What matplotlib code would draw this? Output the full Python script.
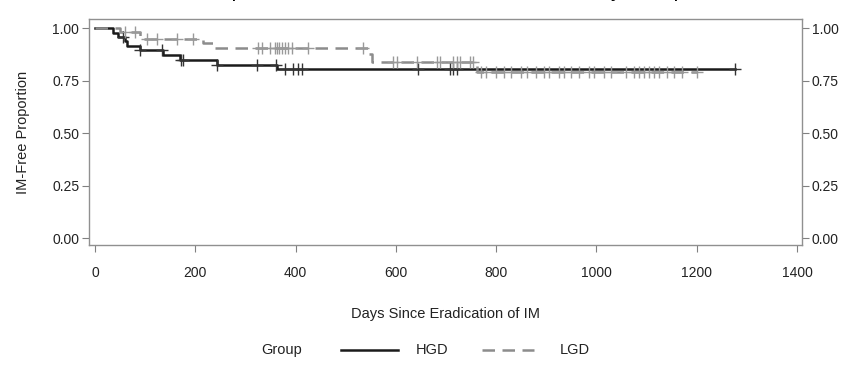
import numpy as np
import matplotlib
matplotlib.use("Agg")
from matplotlib import pyplot as plt
from matplotlib.lines import Line2D

plt.rcParams['font.family'] = ['Liberation Sans', 'DejaVu Sans']

# Kaplan-Meier steps (days, IM-free proportion)
hgd_times = [0, 36, 46, 60, 63, 90, 136, 170, 243, 363, 1276]
hgd_surv = [1.0, 0.978, 0.957, 0.936, 0.915, 0.893, 0.871, 0.850, 0.826, 0.803, 0.803]
hgd_censor = [56, 90, 133, 172, 176, 243, 323, 360, 379, 395, 405, 413,
              645, 708, 714, 722, 1276]

lgd_times = [0, 50, 90, 215, 240, 545, 552, 762, 1200]
lgd_surv = [1.0, 0.98, 0.95, 0.927, 0.905, 0.875, 0.84, 0.79, 0.79]
lgd_censor = [60, 80, 104, 124, 164, 196, 325, 333, 350, 358, 362, 366, 372,
              378, 385, 392, 425, 535, 594, 602, 642, 682, 688, 714, 722, 728,
              748, 754, 770, 780, 800, 815, 830, 850, 862, 880, 895, 905, 925,
              935, 950, 965, 985, 995, 1015, 1030, 1060, 1075, 1085, 1095, 1105,
              1115, 1125, 1140, 1155, 1170, 1200]

x_ticks = [0, 200, 400, 600, 800, 1000, 1200, 1400]
y_ticks = [0.00, 0.25, 0.50, 0.75, 1.00]


def level_at(times, surv, t):
    idx = np.searchsorted(times, t, side='right') - 1
    return np.asarray(surv)[idx]


def main():
    fig = plt.figure(figsize=(8.5, 3.73), dpi=100)
    ax = fig.add_axes([0.1047, 0.3432, 0.8388, 0.6059])

    ax.step(hgd_times, hgd_surv, where='post', color='#1a1a1a', lw=1.8)
    ax.step(lgd_times, lgd_surv, where='post', color='#8c8c8c', lw=1.8,
            dashes=(5, 3))
    ax.plot(hgd_censor, level_at(hgd_times, hgd_surv, hgd_censor), '+',
            color='#333333', ms=8, mew=1)
    ax.plot(lgd_censor, level_at(lgd_times, lgd_surv, lgd_censor), '+',
            color='#999999', ms=8, mew=1)

    ax.set_xlim(-12, 1410)
    ax.set_ylim(-0.033, 1.043)
    ax.set_xticks(x_ticks)
    ax.set_yticks(y_ticks)
    ax.yaxis.set_major_formatter(matplotlib.ticker.FormatStrFormatter('%.2f'))
    ax.tick_params(axis='y', which='both', left=True, right=True,
                   labelleft=True, labelright=True, direction='out',
                   length=5, color='#808080', labelsize=10, pad=2,
                   labelcolor='#222222')
    ax.tick_params(axis='x', direction='out', length=5, color='#808080',
                   labelsize=10, pad=10, labelcolor='#222222')
    for sp in ax.spines.values():
        sp.set_color('#909090')
        sp.set_linewidth(1.0)

    ax.set_ylabel('IM-Free Proportion', fontsize=10.5, color='#222222',
                  labelpad=16)
    fig.text(0.524, 0.159, 'Days Since Eradication of IM', ha='center',
             va='center', fontsize=10.5, color='#222222')

    # title sits mostly above the top edge, only its descenders show
    fig.text(0.524, 1.009, 'Kaplan-Meier Estimates of IM Recurrence by Group',
             ha='center', va='baseline', fontsize=15, color='black')

    # legend row
    ly = 1 - 350 / 373
    fig.text(282 / 850, ly, 'Group', ha='center', va='center', fontsize=10.5,
             color='#222222')
    fig.add_artist(Line2D([341 / 850, 398 / 850], [ly, ly], color='#1a1a1a',
                          lw=1.8))
    fig.text(416 / 850, ly, 'HGD', ha='left', va='center', fontsize=10.5,
             color='#222222')
    fig.add_artist(Line2D([482 / 850, 534 / 850], [ly, ly], color='#8c8c8c',
                          lw=1.8, dashes=(5, 3)))
    fig.text(560 / 850, ly, 'LGD', ha='left', va='center', fontsize=10.5,
             color='#222222')

    fig.savefig('out.png', dpi=100)


if __name__ == '__main__':
    main()
